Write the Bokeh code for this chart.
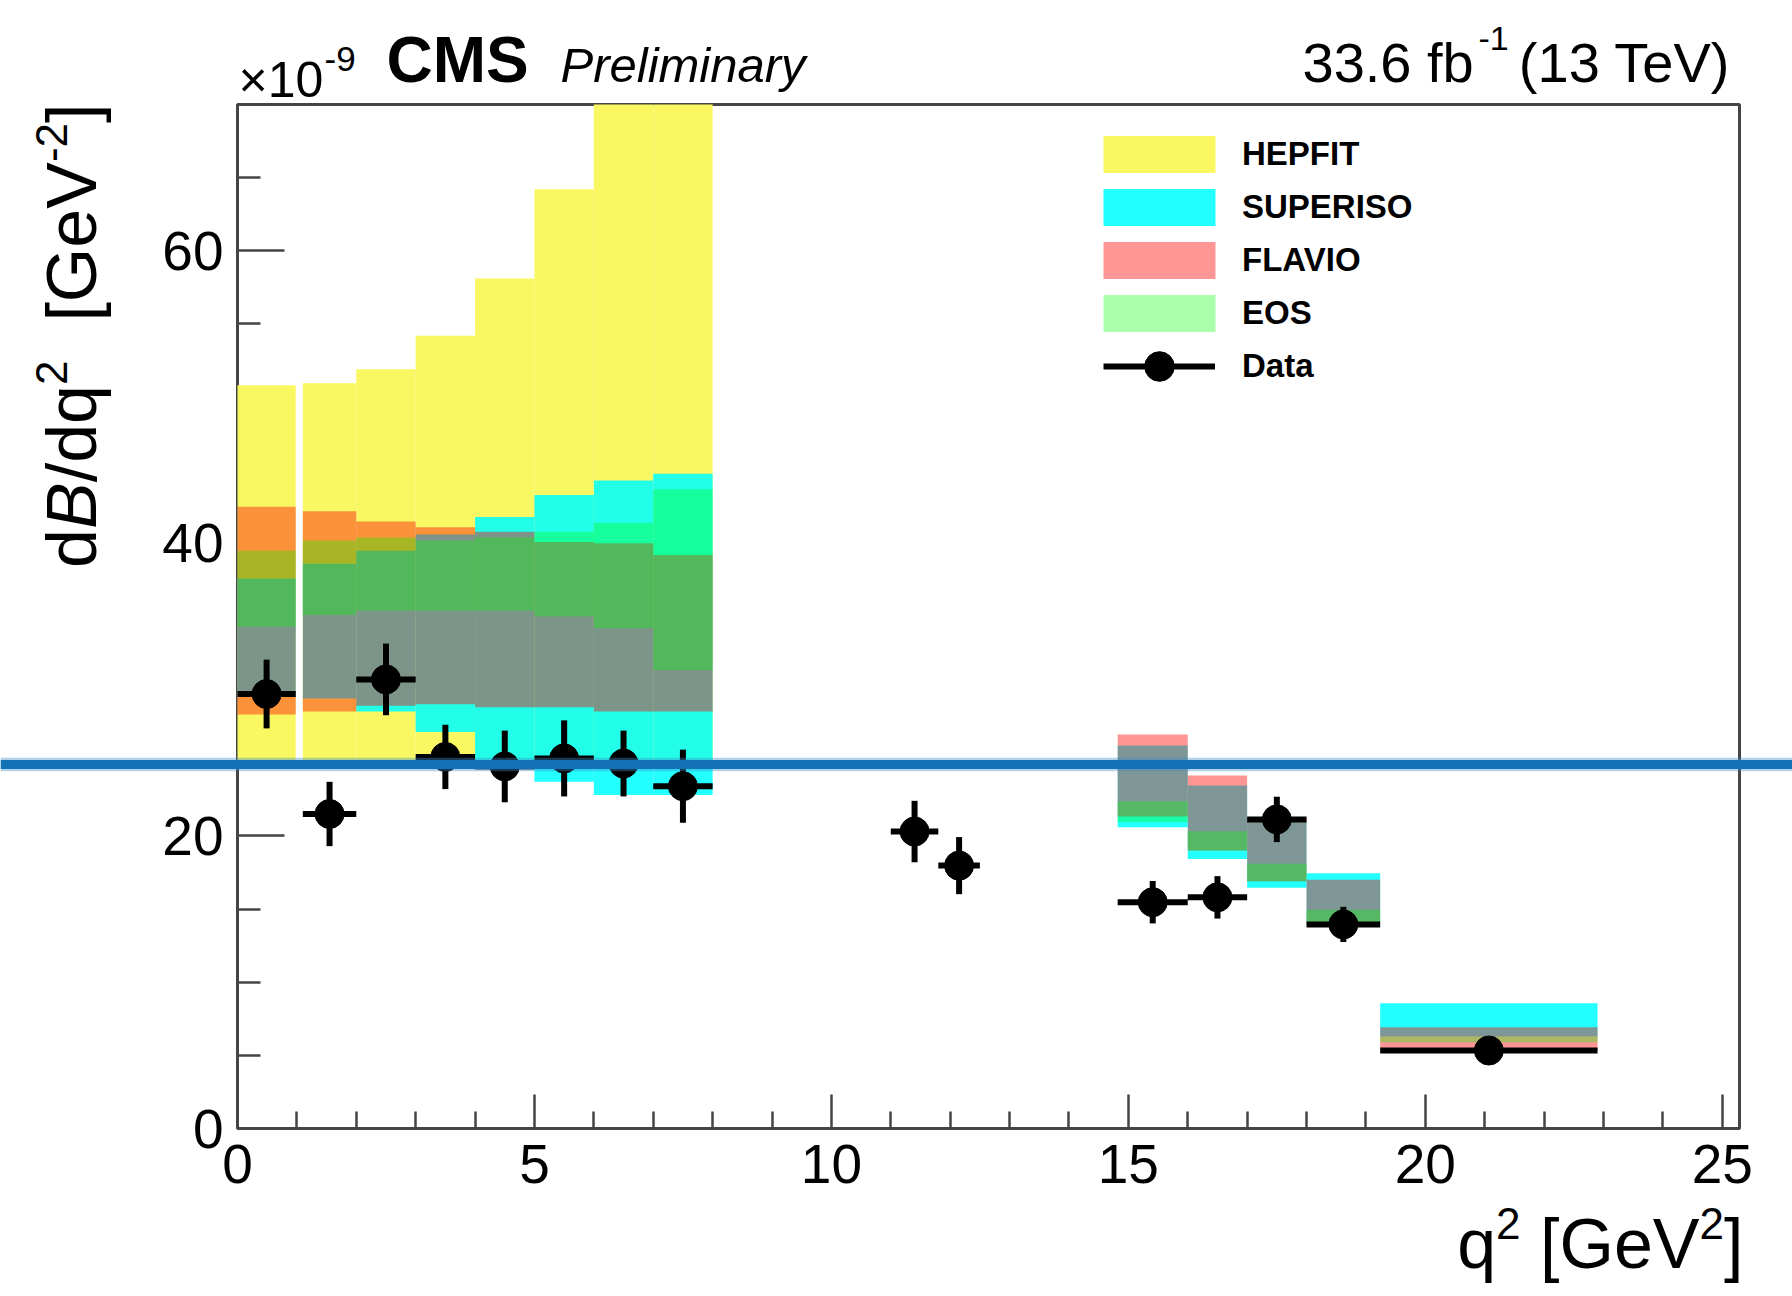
import math
from bokeh.plotting import figure
from bokeh.models import Range1d, FixedTicker, Label, Legend, LegendItem, BoxAnnotation
from bokeh.embed import file_html
from bokeh.resources import INLINE

# ---- measured differential branching fraction (units of 1e-9 GeV^-2) ----
data_lo = [0.0, 1.1, 2.0, 3.0, 4.0, 5.0, 6.0, 7.0, 11.0, 11.8, 14.82, 16.0, 17.0, 18.0, 19.24]
data_hi = [0.98, 2.0, 3.0, 4.0, 5.0, 6.0, 7.0, 8.0, 11.8, 12.5, 16.0, 17.0, 18.0, 19.24, 22.9]
data_val = [29.7, 21.5, 30.7, 25.4, 24.75, 25.3, 24.95, 23.4, 20.3, 17.97, 15.47, 15.8, 21.13, 13.95, 5.33]
data_err = [2.35, 2.2, 2.45, 2.2, 2.45, 2.6, 2.25, 2.5, 2.1, 1.95, 1.45, 1.45, 1.55, 1.2, 0.5]

# ---- theory prediction bins ----
pred_lo = [0.0, 1.1, 2.0, 3.0, 4.0, 5.0, 6.0, 7.0, 14.82, 16.0, 17.0, 18.0, 19.24]
pred_hi = [0.98, 2.0, 3.0, 4.0, 5.0, 6.0, 7.0, 8.0, 16.0, 17.0, 18.0, 19.24, 22.9]

# HEPFIT is only available in the low-q2 bins
hepfit_lo = [25.0, 25.0, 25.0, 25.0, 25.0, 25.0, 25.0, 25.0]
hepfit_hi = [50.8, 50.95, 51.9, 54.2, 58.1, 64.2, 74.0, 78.0]
superiso_lo = [29.5, 29.4, 28.5, 27.1, 24.8, 23.7, 22.8, 22.8, 20.6, 18.43, 16.45, 14.0, 6.29]
superiso_hi = [37.6, 38.6, 39.5, 40.6, 41.8, 43.3, 44.3, 44.75, 26.18, 23.44, 21.0, 17.45, 8.56]
flavio_lo = [28.3, 28.5, 28.9, 29.0, 28.8, 28.8, 28.5, 28.5, 21.33, 19.0, 16.9, 14.0, 5.3]
flavio_hi = [42.5, 42.2, 41.5, 41.1, 40.8, 40.1, 40.0, 39.2, 26.93, 24.13, 21.3, 17.0, 6.92]
eos_lo = [34.3, 35.1, 35.4, 35.4, 35.4, 35.0, 34.2, 31.35, 20.95, 19.0, 16.9, 14.0, 5.9]
eos_hi = [39.5, 40.2, 40.4, 40.2, 40.4, 40.8, 41.4, 43.7, 22.37, 20.32, 18.09, 14.95, 6.29]

x_ticks = [0, 5, 10, 15, 20, 25]
x_minor = [1, 2, 3, 4, 6, 7, 8, 9, 11, 12, 13, 14, 16, 17, 18, 19, 21, 22, 23, 24]
y_ticks = [0, 20, 40, 60]
y_minor = [5, 10, 15, 25, 30, 35, 45, 50, 55, 65]

X_MAX, Y_MAX = 25.29, 70.0

# ---- page geometry (pixels) ----
W, H = 1792, 1296
FL, FR, FT, FB = 237, 1739, 104, 1128          # edges of the plotting box
SX = (FR - FL) / X_MAX
SY = (FB - FT) / Y_MAX

FONT = "Liberation Sans"
AXIS_GREY = "#454545"

# The canvas is one big frame; the axes are pinned at x=0 / y=0 so that
# the header and axis titles can live in the same drawing area.
p = figure(width=W, height=H, output_backend="svg", toolbar_location=None, title=None,
           x_range=Range1d(-FL / SX, X_MAX + (W - FR) / SX),
           y_range=Range1d(-(H - FB) / SY, Y_MAX + FT / SY),
           min_border=0, min_border_left=0, min_border_right=0,
           min_border_top=0, min_border_bottom=0)
p.background_fill_color = "white"
p.border_fill_color = "white"
p.outline_line_color = None
p.xgrid.visible = False
p.ygrid.visible = False

for ax in (p.xaxis[0], p.yaxis[0]):
    ax.fixed_location = 0
    ax.level = "underlay"
    ax.axis_line_color = AXIS_GREY
    ax.axis_line_width = 3
    ax.major_tick_line_color = AXIS_GREY
    ax.major_tick_line_width = 2.5
    ax.minor_tick_line_color = AXIS_GREY
    ax.minor_tick_line_width = 2.5
    ax.major_tick_out = 0
    ax.minor_tick_out = 0
    ax.major_label_text_font = FONT
    ax.major_label_text_font_size = "55px"
    ax.major_label_text_color = "black"

p.xaxis.bounds = (0, X_MAX)
p.yaxis.bounds = (0, Y_MAX)
p.xaxis.ticker = FixedTicker(ticks=x_ticks, minor_ticks=x_minor)
p.yaxis.ticker = FixedTicker(ticks=y_ticks, minor_ticks=y_minor)
p.xaxis.major_tick_in = 34
p.xaxis.minor_tick_in = 17
p.yaxis.major_tick_in = 47
p.yaxis.minor_tick_in = 23
p.xaxis.major_label_standoff = 16
p.yaxis.major_label_standoff = 14

# plotting box outline
p.quad(left=[0], right=[X_MAX], bottom=[0], top=[Y_MAX], fill_color=None,
       line_color=AXIS_GREY, line_width=3, level="underlay")

# ---- prediction bands, drawn translucent on top of each other ----
hep_top = [min(v, Y_MAX) for v in hepfit_hi]      # clip at the top of the box
r_hep = p.quad(left=pred_lo[:8], right=pred_hi[:8], bottom=hepfit_lo, top=hep_top,
               fill_color="#f9f862", fill_alpha=1.0, line_color=None)
r_sup = p.quad(left=pred_lo, right=pred_hi, bottom=superiso_lo, top=superiso_hi,
               fill_color="#00ffff", fill_alpha=0.86, line_color=None)
r_fla = p.quad(left=pred_lo, right=pred_hi, bottom=flavio_lo, top=flavio_hi,
               fill_color="#ff0000", fill_alpha=0.41, line_color=None)
r_eos = p.quad(left=pred_lo, right=pred_hi, bottom=eos_lo, top=eos_hi,
               fill_color="#00ff00", fill_alpha=0.33, line_color=None)

# ---- data points with error bars ----
x_c = [(a + b) / 2 for a, b in zip(data_lo, data_hi)]
y_dn = [v - e for v, e in zip(data_val, data_err)]
y_up = [v + e for v, e in zip(data_val, data_err)]
r_xerr = p.segment(x0=data_lo, y0=data_val, x1=data_hi, y1=data_val,
                   line_color="black", line_width=6)
r_yerr = p.segment(x0=x_c, y0=y_dn, x1=x_c, y1=y_up,
                   line_color="black", line_width=6)
r_pts = p.scatter(x=x_c, y=data_val, size=29, marker="circle",
                  fill_color="black", line_color="black")

# ---- legends (location = bottom-left corner, pixels from the canvas bottom-left) ----
# area swatches are inset by 10% of the glyph box, hence the larger glyph size
leg = Legend(items=[LegendItem(label="HEPFIT", renderers=[r_hep]),
                    LegendItem(label="SUPERISO", renderers=[r_sup]),
                    LegendItem(label="FLAVIO", renderers=[r_fla]),
                    LegendItem(label="EOS", renderers=[r_eos])],
             location=(1089, H - 336), padding=0, margin=0, spacing=7,
             glyph_width=140, glyph_height=46, label_standoff=13, label_height=40,
             label_text_font=FONT, label_text_font_style="bold",
             label_text_font_size="33px", label_text_color="black",
             border_line_color=None, background_fill_alpha=0)
p.add_layout(leg)
leg_data = Legend(items=[LegendItem(label="Data", renderers=[r_xerr, r_pts])],
                  location=(1103, H - 403), padding=0, margin=0,
                  glyph_width=112, glyph_height=74, label_standoff=27,
                  label_text_font=FONT, label_text_font_style="bold",
                  label_text_font_size="33px", label_text_color="black",
                  border_line_color=None, background_fill_alpha=0)
p.add_layout(leg_data)

# ---- text helpers (Helvetica-compatible advance widths, per 1000 em) ----
ADV = {" ": 278, "[": 278, "]": 278, "(": 333, ")": 333, "-": 333, ".": 278, "/": 278,
       "B": 667, "G": 778, "T": 611, "V": 667, "b": 556, "d": 556, "e": 556,
       "f": 278, "q": 556, "×": 584}
for ch in "0123456789":
    ADV[ch] = 556

BASE_SHIFT = 0.35   # renderer places the alphabetic baseline this many em too low


def width(s, size):
    return sum(ADV[c] for c in s) * size / 1000.0


def put(text, x, y_top, size, style="normal", align="left", vertical=False):
    """Place text with its baseline at pixel (x, y_top) from the canvas top-left."""
    if vertical:
        x, y_top, angle = x - BASE_SHIFT * size, y_top, math.pi / 2
    else:
        y_top, angle = y_top - BASE_SHIFT * size, 0.0
    p.add_layout(Label(x=x, y=H - y_top, x_units="screen", y_units="screen", text=text,
                       text_font=FONT, text_font_size=f"{size}px", text_font_style=style,
                       text_color="black", text_align=align,
                       text_baseline="alphabetic", angle=angle))


# header
put("×10", 238, 97, 50)
put("-9", 324, 71, 35)
put("CMS", 386, 82, 64, style="bold")
put("Preliminary", 560, 82, 49, style="italic")
put("33.6 fb", 1302, 82, 56)
put("-1", 1478, 50, 34)
put("(13 TeV)", 1730, 82, 56, align="right")

# x-axis title, right aligned to the box edge; (text, size, raise, leading gap in em)
MAIN, SUP, RAISE = 70, 44, 30
x_parts = [("q", MAIN, 0, 0), ("2", SUP, RAISE, 0), ("[GeV", MAIN, 0, 0.278),
           ("2", SUP, RAISE, 0), ("]", MAIN, 0, 0)]
total = sum(width(t, s) + g * s for t, s, _, g in x_parts)
cur = 1743 - total
for t, s, r, g in x_parts:
    cur += g * s
    put(t, cur, 1268 - r, s)
    cur += width(t, s)

# y-axis title, rotated, ending at the top of the box
y_parts = [("d", MAIN, 0, "normal", 0), ("B", MAIN, 0, "italic", 0),
           ("/dq", MAIN, 0, "normal", 0), ("2", SUP, RAISE, "normal", 0),
           ("[GeV", MAIN, 0, "normal", 0.556), ("-2", SUP, RAISE, "normal", 0),
           ("]", MAIN, 0, "normal", 0)]
total = sum(width(t, s) + g * s for t, s, _, _, g in y_parts)
cur = 103 + total
for t, s, r, st, g in y_parts:
    cur -= g * s
    put(t, 96 - r, cur, s, style=st, vertical=True)
    cur -= width(t, s)

# blue stroke across the whole canvas (soft fringe plus solid core)
p.add_layout(BoxAnnotation(bottom=24.42, top=25.34,
                           fill_color="#3f8ccb", fill_alpha=0.4, line_alpha=0,
                           level="overlay"))
p.add_layout(BoxAnnotation(bottom=24.57, top=25.19,
                           fill_color="#1372b6", fill_alpha=1.0, line_alpha=0,
                           level="overlay"))

open("out.html", "w").write(file_html(p, INLINE))
